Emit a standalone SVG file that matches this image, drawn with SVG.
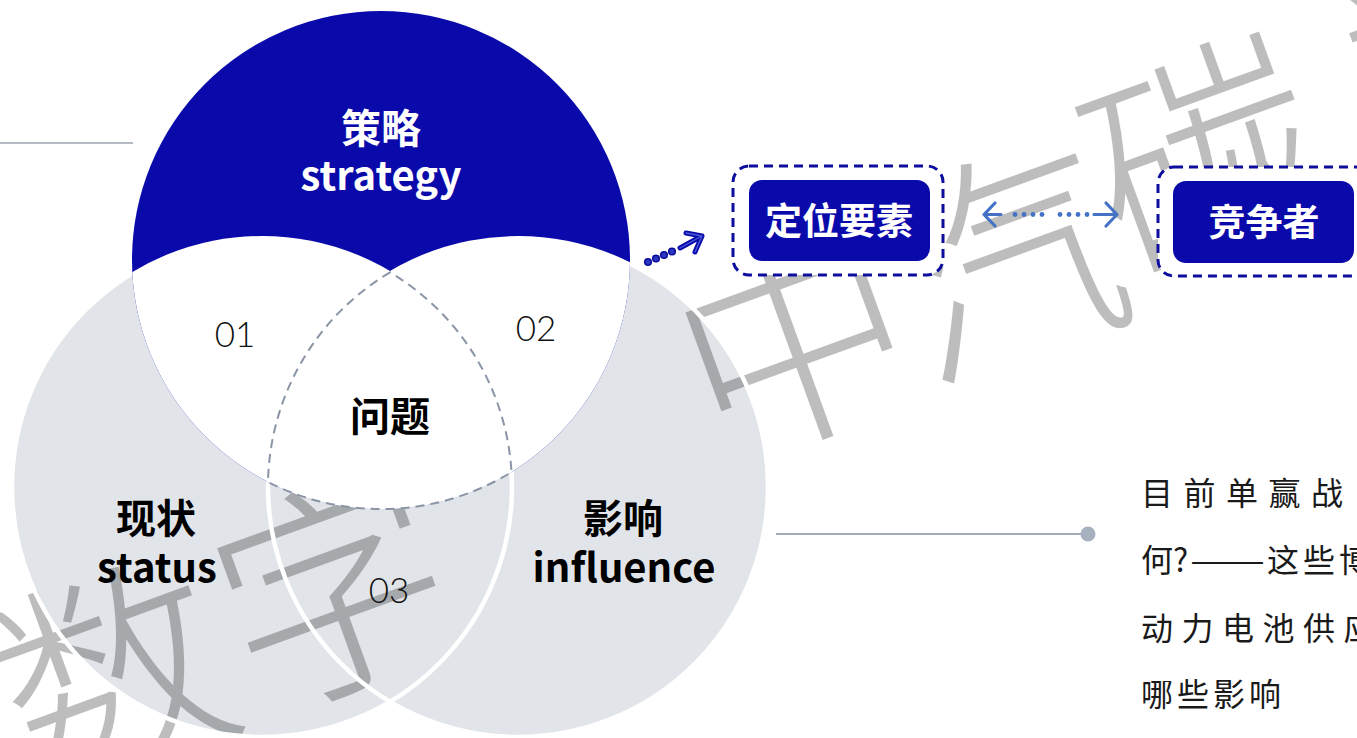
<svg xmlns="http://www.w3.org/2000/svg" width="1357" height="738" viewBox="0 0 1357 738">
  <style>
    .lbl { font-family: "Noto Sans CJK SC", "Noto Sans", sans-serif; font-weight: 700; font-size: 40px; text-anchor: middle; }
    .num { font-family: Lato, "Noto Sans", sans-serif; font-weight: 300; font-size: 35px; fill: #111; text-anchor: middle; }
    .wm { font-family: "Noto Sans CJK SC", sans-serif; font-weight: 300; font-size: 230px; fill: #000; fill-opacity: 0.26; text-anchor: middle; }
    .box-outer { fill: #fff; stroke: #0d0d9e; stroke-width: 3; stroke-dasharray: 9 6; }
    .box-inner { fill: #0a0aab; }
    .box-text { font-family: "Noto Sans CJK SC", sans-serif; font-weight: 700; font-size: 37px; fill: #fff; text-anchor: middle; }
    .body { font-family: "Noto Sans CJK SC", sans-serif; font-size: 32px; fill: #1a1a1a; }
    .gray-set { fill: #e1e4e8; }
    .ring { fill: none; stroke: #fff; stroke-width: 4.5; }
  </style>
  <defs>
    <clipPath id="topClip">
      <circle cx="381" cy="260" r="249"/>
    </clipPath>
  </defs>

  <rect width="1357" height="738" fill="#fff"/>

  <!-- short rule at the upper left -->
  <line x1="0" y1="143" x2="133" y2="143" stroke="#9aa3b0" stroke-width="1.5"/>

  <!-- lower sets: status and influence -->
  <g id="set-status">
    <circle class="gray-set" cx="262" cy="487" r="250"/>
  </g>
  <g id="set-influence">
    <circle class="gray-set" cx="518" cy="487" r="250"/>
  </g>

  <!-- watermark -->
  <g id="watermark">
    <text class="wm" transform="translate(115 680) rotate(-20)" y="82">数</text>
    <text class="wm" transform="translate(335 595) rotate(-20)" y="82">字</text>
    <text class="wm" transform="translate(795 345) rotate(-20)" y="82">中</text>
    <text class="wm" transform="translate(1005 265) rotate(-20)" y="82">汽</text>
    <text class="wm" transform="translate(1205 160) rotate(-20)" y="82">碳</text>
    <text class="wm" transform="translate(1468 60) rotate(-20)" y="82">数</text>
  </g>

  <!-- white outlines of the lower sets -->
  <circle class="ring" cx="262" cy="487" r="250"/>
  <circle class="ring" cx="518" cy="487" r="250"/>

  <!-- upper set: strategy -->
  <g id="set-strategy">
    <circle cx="381" cy="260" r="249" fill="#0a0aab"/>
    <g clip-path="url(#topClip)">
      <circle cx="262" cy="487" r="251" fill="#fff"/>
      <circle cx="518" cy="487" r="251" fill="#fff"/>
    </g>
  </g>

  <!-- triple overlap outline -->
  <g id="core">
    <path d="M390 272.3 A250 250 0 0 0 268 482 A249 249 0 0 0 511.5 472.1 A250 250 0 0 0 390 272.3 Z" fill="none" stroke="#8a95a5" stroke-width="2" stroke-dasharray="9 6"/>
    <text class="lbl" x="390" y="431" fill="#000" font-size="41">问题</text>
  </g>

  <!-- set labels -->
  <g id="label-strategy">
    <text class="lbl" x="381" y="143" fill="#fff">策略</text>
    <text class="lbl" x="381" y="190" fill="#fff">strategy</text>
  </g>
  <g id="label-status">
    <text class="lbl" x="156" y="533" fill="#000">现状</text>
    <text class="lbl" x="157" y="582" fill="#000">status</text>
  </g>
  <g id="label-influence">
    <text class="lbl" x="623" y="533" fill="#000">影响</text>
    <text class="lbl" x="624" y="582" fill="#000">influence</text>
  </g>
  <g id="overlap-numbers">
    <text class="num" x="235" y="347">01</text>
    <text class="num" x="536" y="341">02</text>
    <text class="num" x="389" y="603">03</text>
  </g>

  <!-- positioning factor box -->
  <g id="node-positioning">
    <rect class="box-outer" x="733" y="166" width="210" height="109" rx="16"/>
    <rect class="box-inner" x="749" y="180" width="181" height="81" rx="13"/>
    <text class="box-text" x="839" y="235">定位要素</text>
  </g>

  <!-- competitor box -->
  <g id="node-competitor">
    <rect class="box-outer" x="1158" y="167" width="215" height="109" rx="16"/>
    <rect class="box-inner" x="1173" y="181" width="181" height="82" rx="13"/>
    <text class="box-text" x="1264" y="236">竞争者</text>
  </g>

  <!-- connectors -->
  <g id="connectors">
    <!-- dotted arrow from the strategy set to the positioning box -->
    <g fill="#2a35c0" stroke="#0a0a9a" stroke-width="1.5">
      <circle cx="648" cy="262" r="3.3"/>
      <circle cx="656" cy="258.5" r="3.3"/>
      <circle cx="664" cy="255" r="3.3"/>
      <circle cx="672" cy="251.5" r="3.3"/>
    </g>
    <g fill="none" stroke-linecap="round" stroke-linejoin="round">
      <path d="M680 248 L700 237 M686 233 L702 236 L695 252" stroke="#0a0aab" stroke-width="5"/>
      <path d="M680 248 L700 237 M686 233 L702 236 L695 252" stroke="#4a5ad8" stroke-width="1.3"/>
    </g>

    <!-- two-way dotted arrow between the boxes -->
    <g stroke="#4472c4" stroke-width="3.2" fill="none" stroke-linecap="round" stroke-linejoin="round">
      <path d="M995 203 L984 214.5 L995 226 M984 214.5 L1001 214.5"/>
      <path d="M1106 203 L1117 214.5 L1106 226 M1117 214.5 L1094 214.5"/>
    </g>
    <g fill="#4472c4">
      <circle cx="1015" cy="214.5" r="2.4"/>
      <circle cx="1024" cy="214.5" r="2.4"/>
      <circle cx="1033" cy="214.5" r="2.4"/>
      <circle cx="1042" cy="214.5" r="2.4"/>
      <circle cx="1060" cy="214.5" r="2.4"/>
      <circle cx="1069" cy="214.5" r="2.4"/>
      <circle cx="1078" cy="214.5" r="2.4"/>
      <circle cx="1087" cy="214.5" r="2.4"/>
    </g>

    <!-- leader line to the note -->
    <line x1="776" y1="534" x2="1088" y2="534" stroke="#a0aab8" stroke-width="2"/>
    <circle cx="1088" cy="534" r="7.5" fill="#a7b0bf"/>
  </g>

  <!-- note text -->
  <g id="note">
    <text class="body" x="1141" y="505" letter-spacing="10.5">目前单赢战</text>
    <text class="body" y="572" font-size="33"><tspan x="1141">何?</tspan><tspan x="1190" textLength="75" lengthAdjust="spacingAndGlyphs">——</tspan><tspan x="1267" letter-spacing="4">这些博</tspan></text>
    <text class="body" x="1141" y="640" letter-spacing="8.5">动力电池供应</text>
    <text class="body" x="1141" y="706" letter-spacing="4">哪些影响</text>
  </g>
</svg>
